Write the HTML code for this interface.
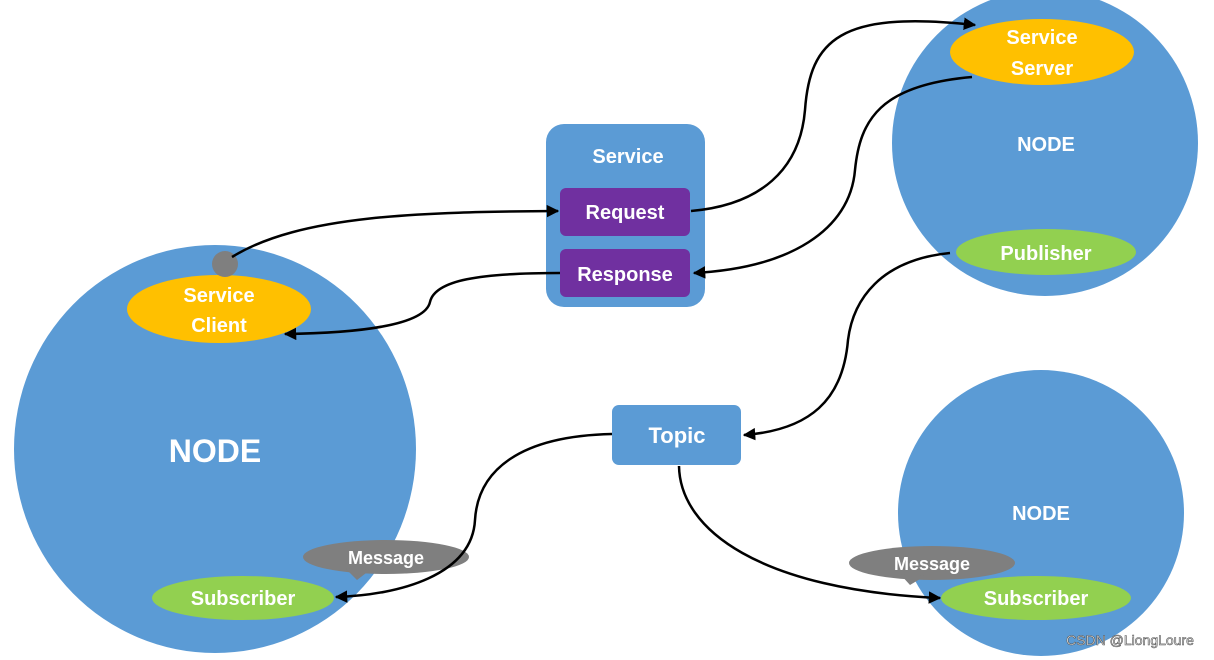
<!DOCTYPE html>
<html><head><meta charset="utf-8"><style>
html,body{margin:0;padding:0;background:#fff;}
svg{display:block;}
text{font-family:"Liberation Sans",sans-serif;font-weight:bold;fill:#fff;text-anchor:middle;}
</style></head><body>
<svg width="1214" height="660" viewBox="0 0 1214 660" xmlns="http://www.w3.org/2000/svg">
<defs>
<marker id="a" viewBox="0 0 10 10" refX="9" refY="5" markerWidth="5" markerHeight="5" orient="auto"><path d="M0,0 L10,5 L0,10 z" fill="#000"/></marker>
</defs>
<rect width="1214" height="660" fill="#fff"/>
<!-- nodes -->
<ellipse cx="215" cy="449" rx="201" ry="204" fill="#5b9bd5"/>
<ellipse cx="1045" cy="143" rx="153" ry="153" fill="#5b9bd5"/>
<ellipse cx="1041" cy="513" rx="143" ry="143" fill="#5b9bd5"/>
<!-- service box -->
<rect x="546" y="124" width="159" height="183" rx="18" fill="#5b9bd5"/>
<rect x="560" y="188" width="130" height="48" rx="6" fill="#7030a0"/>
<rect x="560" y="249" width="130" height="48" rx="6" fill="#7030a0"/>
<rect x="612" y="405" width="129" height="60" rx="7" fill="#5b9bd5"/>
<!-- ellipses -->
<ellipse cx="1042" cy="52" rx="92" ry="33" fill="#ffc000"/>
<ellipse cx="1046" cy="252" rx="90" ry="23" fill="#92d050"/>
<ellipse cx="219" cy="309" rx="92" ry="34" fill="#ffc000"/>
<circle cx="225" cy="264" r="13" fill="#7f7f7f"/>
<ellipse cx="243" cy="598" rx="91" ry="22" fill="#92d050"/>
<ellipse cx="1036" cy="598" rx="95" ry="22" fill="#92d050"/>
<ellipse cx="386" cy="557" rx="83" ry="17" fill="#7f7f7f"/>
<path d="M345,568 L357,580 L370,570 z" fill="#7f7f7f"/>
<ellipse cx="932" cy="563" rx="83" ry="17" fill="#7f7f7f"/>
<path d="M900,574 L910,585 L925,576 z" fill="#7f7f7f"/>
<!-- connectors -->
<g fill="none" stroke="#000" stroke-width="2.5">
<path d="M232,257 C300,215 420,212 558,211" marker-end="url(#a)"/>
<path d="M560,273 C480,273 435,280 430,302 C425,325 360,333 285,334" marker-end="url(#a)"/>
<path d="M691,211 C760,205 800,170 805,110 C810,40 840,10 975,25" marker-end="url(#a)"/>
<path d="M972,77 C880,85 860,120 855,170 C850,230 790,268 694,273" marker-end="url(#a)"/>
<path d="M950,253 C880,260 853,300 848,340 C843,400 810,430 744,435" marker-end="url(#a)"/>
<path d="M612,434 C520,436 478,470 475,520 C472,575 400,595 336,597" marker-end="url(#a)"/>
<path d="M679,466 C680,530 760,590 940,598" marker-end="url(#a)"/>
</g>
<!-- labels -->
<text x="628" y="163" font-size="20">Service</text>
<text x="625" y="219" font-size="20">Request</text>
<text x="625" y="281" font-size="20">Response</text>
<text x="677" y="443" font-size="22">Topic</text>
<text x="1042" y="44" font-size="20">Service</text>
<text x="1042" y="75" font-size="20">Server</text>
<text x="1046" y="151" font-size="20">NODE</text>
<text x="1046" y="260" font-size="20">Publisher</text>
<text x="219" y="302" font-size="20">Service</text>
<text x="219" y="332" font-size="20">Client</text>
<text x="215" y="462" font-size="32">NODE</text>
<text x="243" y="605" font-size="20">Subscriber</text>
<text x="386" y="564" font-size="18">Message</text>
<text x="1041" y="520" font-size="20">NODE</text>
<text x="932" y="570" font-size="18">Message</text>
<text x="1036" y="605" font-size="20">Subscriber</text>
<text x="1130" y="645" font-size="14" style="font-weight:normal;fill:#f0f0f0;stroke:#555;stroke-width:0.6">CSDN @LiongLoure</text>
</svg>
</body></html>
